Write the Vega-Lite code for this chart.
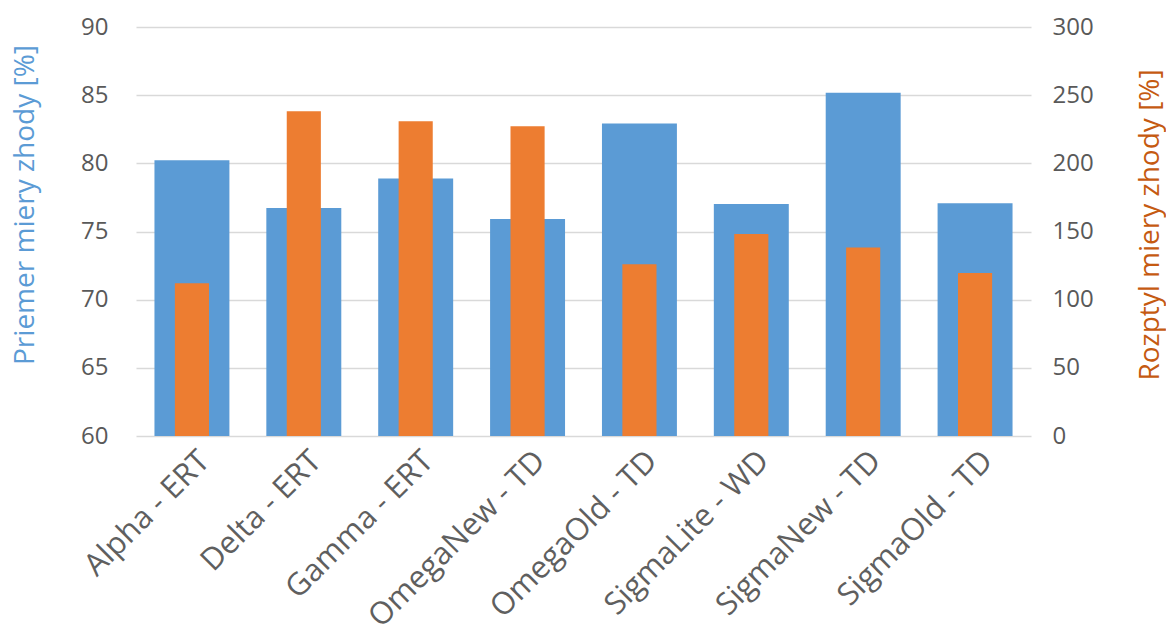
{
  "$schema": "https://vega.github.io/schema/vega-lite/v6.json",
  "width": 895,
  "height": 409,
  "autosize": {"type": "none"},
  "padding": {"left": 136, "top": 27, "right": 135, "bottom": 194},
  "background": "white",
  "config": {
    "view": {"stroke": null},
    "font": "Open Sans",
    "axis": {"labelFont": "Open Sans", "titleFont": "Open Sans", "labelColor": "#595959", "titleFontWeight": "normal"}
  },
  "data": {
    "values": [
      {"name": "Alpha - ERT", "mean": 80.23, "var": 112.0},
      {"name": "Delta - ERT", "mean": 76.72, "var": 238.2},
      {"name": "Gamma - ERT", "mean": 78.89, "var": 230.8},
      {"name": "OmegaNew - TD", "mean": 75.91, "var": 227.2},
      {"name": "OmegaOld - TD", "mean": 82.92, "var": 125.9},
      {"name": "SigmaLite - WD", "mean": 77.01, "var": 148.2},
      {"name": "SigmaNew - TD", "mean": 85.17, "var": 138.2},
      {"name": "SigmaOld - TD", "mean": 77.08, "var": 119.6}
    ]
  },
  "encoding": {
    "x": {
      "field": "name",
      "type": "nominal",
      "sort": null,
      "scale": {"paddingInner": 0, "paddingOuter": 0},
      "axis": {
        "title": null,
        "labelAngle": -45,
        "labelAlign": "right",
        "labelBaseline": "middle",
        "labelFontSize": 31,
        "labelColor": "#5F5F5F",
        "labelOffset": 13,
        "labelPadding": 20,
        "ticks": false,
        "tickSize": 0,
        "domain": false,
        "grid": false,
        "labelOverlap": false,
        "labelLimit": 0
      }
    }
  },
  "layer": [
    {
      "mark": {"type": "bar", "color": "#5B9BD5", "width": {"band": 0.67}},
      "encoding": {
        "y": {
          "field": "mean",
          "type": "quantitative",
          "scale": {"domain": [60, 90], "zero": false, "nice": false},
          "axis": {
            "title": "Priemer miery zhody [%]",
            "titleColor": "#5B9BD5",
            "titleFontSize": 28,
            "titleX": -111,
            "titleY": 177.5,
            "titleAlign": "center",
            "titleBaseline": "middle",
            "titleAngle": -90,
            "values": [60, 65, 70, 75, 80, 85, 90],
            "labelFontSize": 24,
            "labelPadding": 28,
            "ticks": false,
            "tickSize": 0,
            "domain": false,
            "grid": true,
            "gridColor": "#D9D9D9",
            "gridWidth": 1.5
          }
        },
        "y2": {"datum": 60}
      }
    },
    {
      "mark": {"type": "bar", "color": "#ED7D31", "width": {"band": 0.305}},
      "encoding": {
        "y": {
          "field": "var",
          "type": "quantitative",
          "scale": {"domain": [0, 300], "nice": false},
          "axis": {
            "orient": "right",
            "title": "Rozptyl miery zhody [%]",
            "titleColor": "#C55A11",
            "titleFontSize": 28,
            "titleX": 119,
            "titleY": 197.5,
            "titleAlign": "center",
            "titleBaseline": "middle",
            "titleAngle": -90,
            "values": [0, 50, 100, 150, 200, 250, 300],
            "labelFontSize": 24,
            "labelPadding": 21,
            "ticks": false,
            "tickSize": 0,
            "domain": false,
            "grid": false
          }
        }
      }
    }
  ],
  "resolve": {"scale": {"y": "independent"}}
}
